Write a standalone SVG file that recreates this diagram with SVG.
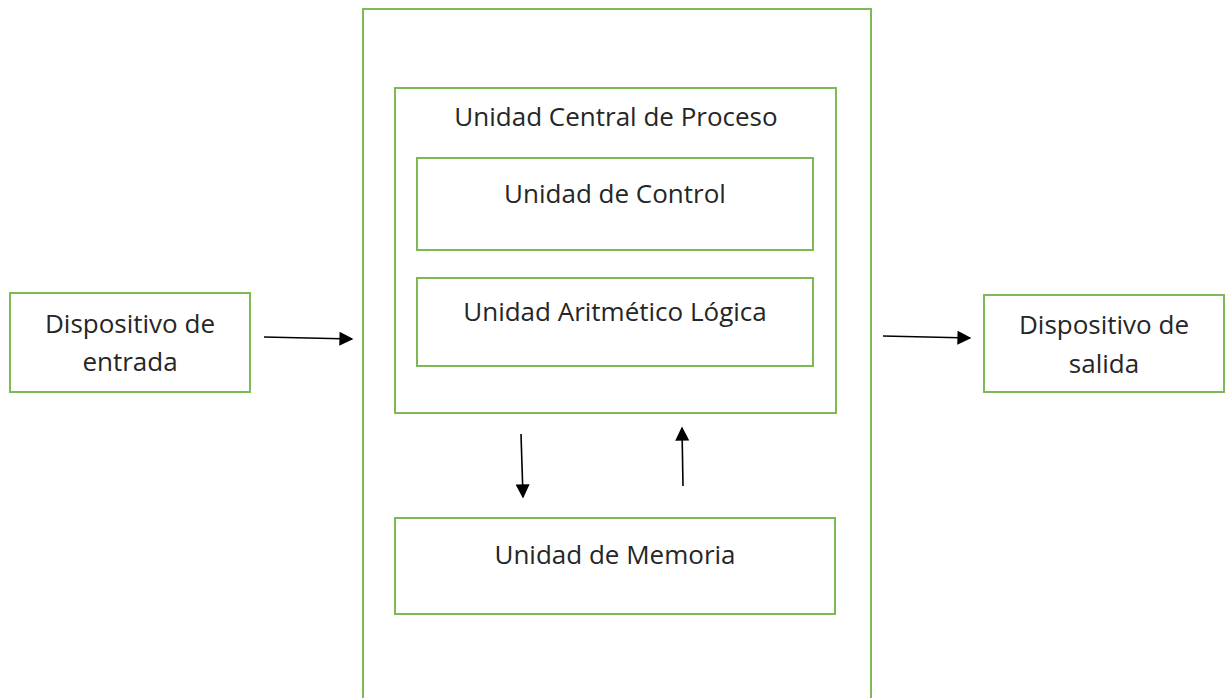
<svg xmlns="http://www.w3.org/2000/svg" width="1225" height="698" viewBox="0 0 1225 698">
<defs>
<style>
.box{fill:#fff;stroke:#7DBA55;stroke-width:2}
.t{font-family:"Open Sans","Liberation Sans",sans-serif;font-size:26px;fill:#262626;text-anchor:middle}
.c{stroke:#000;stroke-width:1.6;fill:none}
</style>
<marker id="ah" viewBox="0 0 10 10" refX="9" refY="5" markerWidth="15" markerHeight="14" markerUnits="userSpaceOnUse" orient="auto"><path d="M0,0L10,5L0,10z" fill="#000"/></marker>
</defs>
<rect width="1225" height="698" fill="#fff"/>
<g id="sistema"><path class="box" d="M363,699V9H871V699"/></g>
<g id="cpu"><rect class="box" x="395" y="88" width="441" height="325"/><text class="t" x="616" y="126">Unidad Central de Proceso</text></g>
<g id="control"><rect class="box" x="417" y="158" width="396" height="92"/><text class="t" x="615" y="203">Unidad de Control</text></g>
<g id="alu"><rect class="box" x="417" y="278" width="396" height="88"/><text class="t" x="615" y="321">Unidad Aritmético Lógica</text></g>
<g id="memoria"><rect class="box" x="395" y="518" width="440" height="96"/><text class="t" x="615" y="564">Unidad de Memoria</text></g>
<g id="entrada"><rect class="box" x="10" y="293" width="240" height="99"/><text class="t" x="130" y="333">Dispositivo de</text><text class="t" x="130" y="371">entrada</text></g>
<g id="salida"><rect class="box" x="984" y="295" width="240" height="97"/><text class="t" x="1104" y="334">Dispositivo de</text><text class="t" x="1104" y="373">salida</text></g>
<g id="conectores">
<line class="c" x1="264" y1="337" x2="352" y2="339" marker-end="url(#ah)"/>
<line class="c" x1="883" y1="336" x2="970" y2="338" marker-end="url(#ah)"/>
<line class="c" x1="521" y1="434" x2="523" y2="497" marker-end="url(#ah)"/>
<line class="c" x1="683" y1="486" x2="682" y2="428" marker-end="url(#ah)"/>
</g>
</svg>
